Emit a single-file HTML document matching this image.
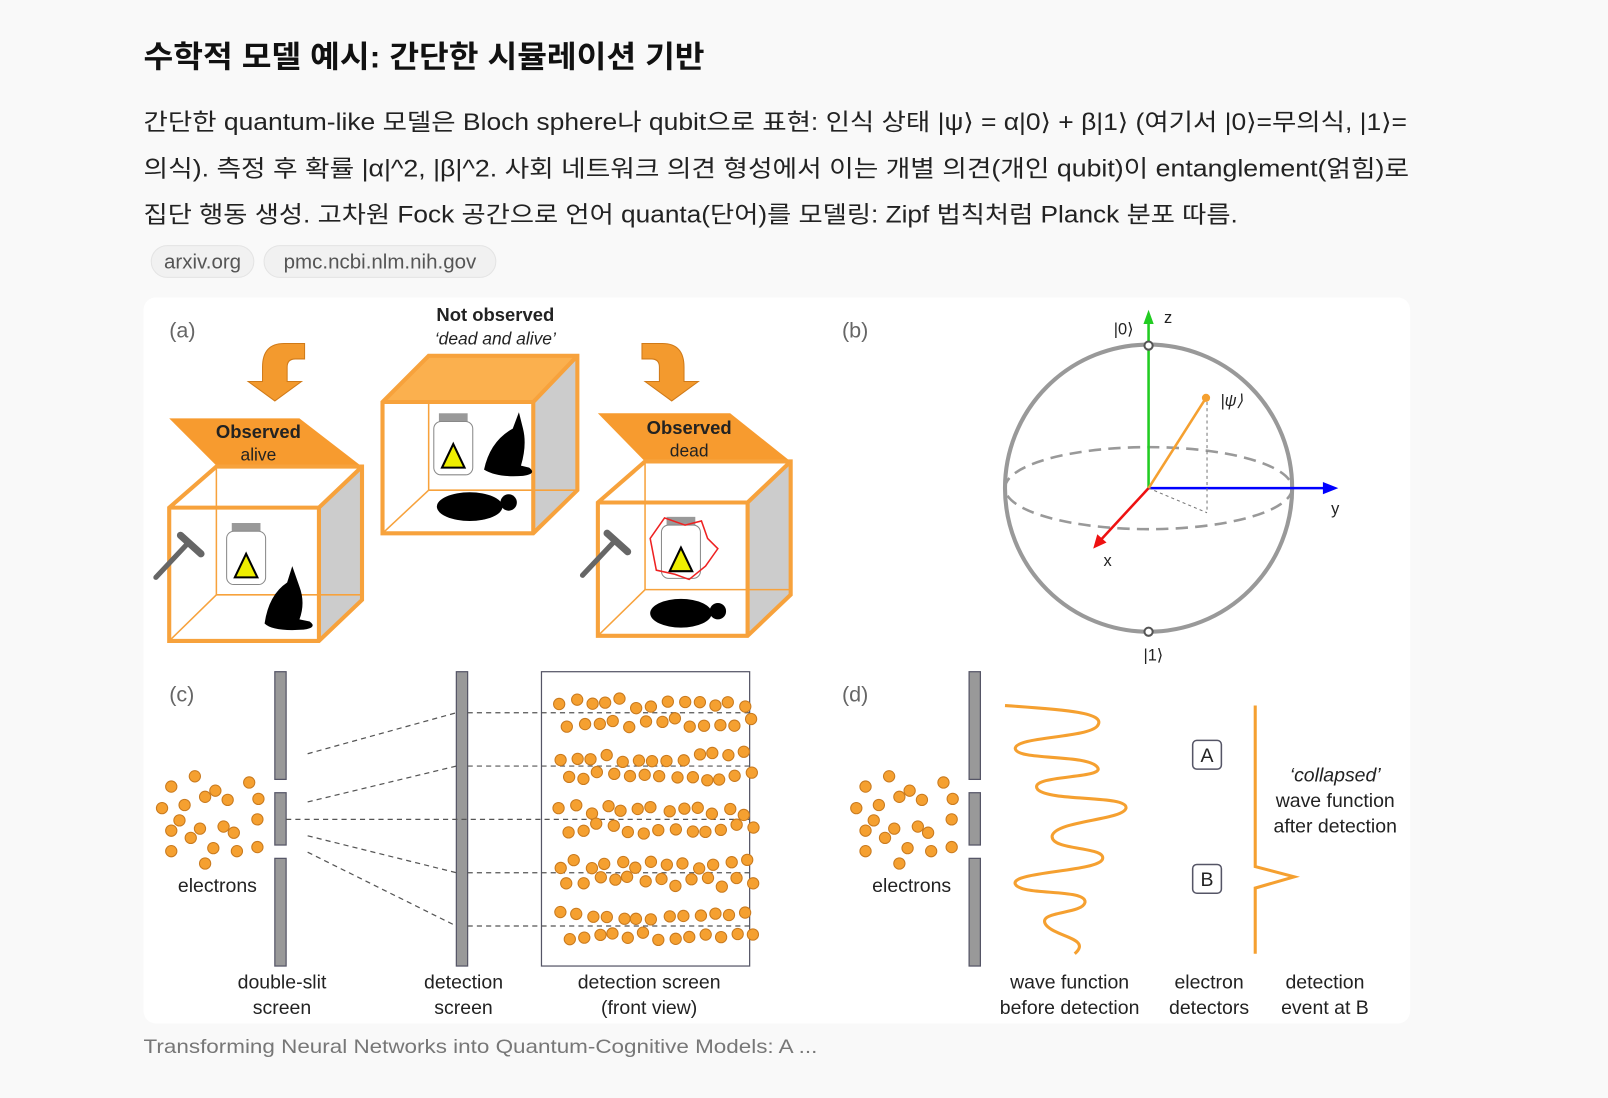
<!DOCTYPE html>
<html><head><meta charset="utf-8"><style>
body{margin:0;width:1608px;height:1098px;background:#f9f9f9;font-family:"Liberation Sans","Noto Sans CJK KR",sans-serif;color:#1a1a1a;overflow:hidden}
#w{position:absolute;left:0;top:0;width:1568px;height:1071px;transform:scale(1.02551);transform-origin:0 0}
.tag{position:absolute;top:239px;height:32px;line-height:32px;border:1px solid #e4e4e4;border-radius:16px;background:#f1f1f1;color:#555;font-size:20px;text-align:center;box-sizing:border-box}
svg{position:absolute;left:0;top:0}
svg text{font-family:"Liberation Sans","Noto Sans CJK KR",sans-serif;fill:#222}
</style></head><body><div id="w">
<div class="tag" style="left:147px;width:101px">arxiv.org</div>
<div class="tag" style="left:257px;width:227px">pmc.ncbi.nlm.nih.gov</div>
<svg width="1568" height="1071" id="s">
<text x="140" y="66" font-size="30" font-weight="bold" textLength="547" lengthAdjust="spacingAndGlyphs" style="fill:#111">수학적 모델 예시: 간단한 시뮬레이션 기반</text>
<g font-size="23" style="fill:#1a1a1a">
<text x="140" y="127" textLength="1232" lengthAdjust="spacingAndGlyphs">간단한 quantum-like 모델은 Bloch sphere나 qubit으로 표현: 인식 상태 |ψ⟩ = α|0⟩ + β|1⟩ (여기서 |0⟩=무의식, |1⟩=</text>
<text x="140" y="172" textLength="1234" lengthAdjust="spacingAndGlyphs">의식). 측정 후 확률 |α|^2, |β|^2. 사회 네트워크 의견 형성에서 이는 개별 의견(개인 qubit)이 entanglement(얽힘)로</text>
<text x="140" y="217" textLength="1067" lengthAdjust="spacingAndGlyphs">집단 행동 생성. 고차원 Fock 공간으로 언어 quanta(단어)를 모델링: Zipf 법칙처럼 Planck 분포 따름.</text>
</g>
<text x="140" y="1027" font-size="19" textLength="657" lengthAdjust="spacingAndGlyphs" style="fill:#777">Transforming Neural Networks into Quantum-Cognitive Models: A ...</text>
<rect x="140" y="290" width="1235" height="708" rx="12" fill="#fff"/>
<g font-size="21"><text x="165" y="329" style="fill:#666">(a)</text><text x="821" y="329" style="fill:#666">(b)</text><text x="165" y="684" style="fill:#666">(c)</text><text x="821" y="684" style="fill:#666">(d)</text></g>
<path d="M297,335 L277,335 Q256,335 256,358 L256,372 L242,372 L268,391 L294,372 L280,372 L280,358 Q280,350 288,350 L297,350 Z" fill="#f39a2e" stroke="#d07a18" stroke-width="1"/>
<path d="M626,335 L646,335 Q667,335 667,358 L667,372 L681,372 L655,391 L629,372 L643,372 L643,358 Q643,350 635,350 L626,350 Z" fill="#f39a2e" stroke="#d07a18" stroke-width="1"/>
<polygon points="311,495 353,455 353,585 311,625" fill="#ccc"/>
<polygon points="165,408 292,408 353,455 212,455" fill="#f79b2f"/>
<g stroke="#f7a23c" fill="none"><line x1="211" y1="455" x2="211" y2="580" stroke-width="1.5"/><line x1="211" y1="580" x2="353" y2="580" stroke-width="1.5"/><line x1="211" y1="580" x2="165" y2="625" stroke-width="1.5"/>
<path d="M165,625 V495 L211,455 H353 V585 L311,625 Z M165,495 H311 V625 M311,495 L353,455" stroke-width="4"/></g>
<text x="252" y="427" font-size="18" font-weight="bold" text-anchor="middle">Observed</text><text x="252" y="449" font-size="17" text-anchor="middle">alive</text>
<polygon points="520,392 563,347 563,478 520,520" fill="#ccc"/>
<polygon points="373,392 418,347 563,347 520,392" fill="#fbb04e"/>
<g stroke="#f7a23c" fill="none"><line x1="418" y1="392" x2="418" y2="478" stroke-width="1.5"/><line x1="418" y1="478" x2="563" y2="478" stroke-width="1.5"/><line x1="418" y1="478" x2="373" y2="520" stroke-width="1.5"/>
<path d="M373,520 V392 L418,347 H563 V478 L520,520 Z M373,392 H520 V520 M520,392 L563,347" stroke-width="4"/></g>
<text x="483" y="313" font-size="18" font-weight="bold" text-anchor="middle">Not observed</text><text x="483" y="336" font-size="17" font-style="italic" text-anchor="middle">‘dead and alive’</text>
<polygon points="729,490 771,450 771,580 729,620" fill="#ccc"/>
<polygon points="583,403 712,403 771,450 629,450" fill="#f79b2f"/>
<g stroke="#f7a23c" fill="none"><line x1="629" y1="450" x2="629" y2="575" stroke-width="1.5"/><line x1="629" y1="575" x2="771" y2="575" stroke-width="1.5"/><line x1="629" y1="575" x2="583" y2="620" stroke-width="1.5"/>
<path d="M583,620 V490 L629,450 H771 V580 L729,620 Z M583,490 H729 V620 M729,490 L771,450" stroke-width="4"/></g>
<text x="672" y="423" font-size="18" font-weight="bold" text-anchor="middle">Observed</text><text x="672" y="445" font-size="17" text-anchor="middle">dead</text>
<g id="bottle"><rect x="226" y="510" width="28" height="8" fill="#999"/><rect x="221" y="518" width="38" height="52" rx="7" fill="#fff" stroke="#888"/><polygon points="240,540 251,563 229,563" fill="#ee0" stroke="#000" stroke-width="2"/></g>
<use href="#bottle" x="202" y="-107"/><use href="#bottle" x="424" y="-6"/>
<polygon points="634,525 648,505 668,512 684,508 690,525 700,535 688,552 672,565 658,560 640,556" fill="none" stroke="#e22" stroke-width="1.5"/>
<g fill="#000">
<path d="M285,552 L280,568 Q262,580 258,608 Q266,616 296,614 Q310,612 302,606 L292,604 Q298,588 292,572 Z"/>
<path d="M506,402 L500,418 Q478,430 472,458 Q485,466 510,464 Q524,462 516,456 L508,454 Q514,434 510,418 Z"/>
<ellipse cx="458" cy="494" rx="32" ry="14"/><circle cx="496" cy="490" r="8"/>
<ellipse cx="664" cy="598" rx="30" ry="14"/><circle cx="700" cy="596" r="8"/>
</g>
<g stroke="#666" stroke-width="5" fill="none" stroke-linecap="round"><line x1="152" y1="563" x2="183" y2="530"/><line x1="568" y1="561" x2="599" y2="528"/></g>
<g stroke="#666" stroke-width="7" stroke-linecap="round"><line x1="176" y1="522" x2="196" y2="540"/><line x1="592" y1="520" x2="612" y2="538"/></g>
<circle cx="1120" cy="476" r="140" fill="none" stroke="#999" stroke-width="4"/>
<ellipse cx="1120" cy="476" rx="140" ry="40" fill="none" stroke="#999" stroke-width="2.5" stroke-dasharray="12,7"/>
<line x1="1120" y1="476" x2="1120" y2="310" stroke="#2c2" stroke-width="2.5"/><polygon points="1120,302 1115,316 1125,316" fill="#2c2"/>
<line x1="1120" y1="476" x2="1295" y2="476" stroke="#00f" stroke-width="2.5"/><polygon points="1305,476 1290,470 1290,482" fill="#00f"/>
<line x1="1120" y1="476" x2="1072" y2="528" stroke="#e11" stroke-width="2.5"/><polygon points="1066,535 1070,521 1079,529" fill="#e11"/>
<line x1="1120" y1="476" x2="1176" y2="388" stroke="#f5a030" stroke-width="2.5"/><circle cx="1176" cy="388" r="4" fill="#f5a030"/>
<line x1="1177" y1="392" x2="1177" y2="500" stroke="#777" stroke-dasharray="3,3"/><line x1="1120" y1="476" x2="1177" y2="500" stroke="#777" stroke-dasharray="3,3"/>
<circle cx="1120" cy="337" r="4" fill="#fff" stroke="#555" stroke-width="2"/><circle cx="1120" cy="616" r="4" fill="#fff" stroke="#555" stroke-width="2"/>
<g font-size="16"><text x="1086" y="326">|0⟩</text><text x="1135" y="315">z</text><text x="1190" y="396" font-style="italic">|ψ⟩</text><text x="1298" y="501">y</text><text x="1076" y="552">x</text><text x="1115" y="644">|1⟩</text></g>
<g fill="#999" stroke="#556" stroke-width="1.2">
<rect x="268" y="655" width="11" height="105"/><rect x="268" y="773" width="11" height="51"/><rect x="268" y="837" width="11" height="105"/>
<rect x="445" y="655" width="11" height="287"/>
<rect x="945" y="655" width="11" height="105"/><rect x="945" y="773" width="11" height="51"/><rect x="945" y="837" width="11" height="105"/></g>
<rect x="528" y="655" width="203" height="287" fill="none" stroke="#556" stroke-width="1.2"/>
<g stroke="#555" stroke-dasharray="5,4" stroke-width="1.2">
<line x1="300" y1="735" x2="445" y2="695"/><line x1="300" y1="782" x2="445" y2="747"/><line x1="279" y1="799" x2="731" y2="799"/><line x1="300" y1="815" x2="445" y2="851"/><line x1="300" y1="831" x2="445" y2="903"/>
<line x1="456" y1="695" x2="731" y2="695"/><line x1="456" y1="747" x2="731" y2="747"/><line x1="456" y1="851" x2="731" y2="851"/><line x1="456" y1="903" x2="731" y2="903"/></g>
<g id="dots" fill="#f5a030" stroke="#c97a1e" stroke-width="1"></g>
<g font-size="19" text-anchor="middle">
<text x="212" y="870">electrons</text><text x="889" y="870">electrons</text>
<text x="275" y="964">double-slit</text><text x="275" y="989">screen</text>
<text x="452" y="964">detection</text><text x="452" y="989">screen</text>
<text x="633" y="964">detection screen</text><text x="633" y="989">(front view)</text>
<text x="1043" y="964">wave function</text><text x="1043" y="989">before detection</text>
<text x="1179" y="964">electron</text><text x="1179" y="989">detectors</text>
<text x="1292" y="964">detection</text><text x="1292" y="989">event at B</text>
<text x="1302" y="762" font-style="italic">‘collapsed’</text><text x="1302" y="787">wave function</text><text x="1302" y="812">after detection</text>
</g>
<path d="M980,688 C1040,692 1080,695 1070,708 C1060,720 990,718 990,730 C992,742 1060,735 1070,748 C1080,760 1000,755 1012,770 C1025,782 1100,775 1098,788 C1095,800 1030,800 1026,815 C1024,830 1080,825 1075,838 C1070,850 985,850 990,862 C995,874 1060,866 1058,880 C1055,892 1010,888 1020,902 C1030,914 1065,915 1048,930" fill="none" stroke="#f5a030" stroke-width="3"/>
<path d="M1224,688 V845 L1262,855 L1224,866 V930" fill="none" stroke="#f5a030" stroke-width="3"/>
<g fill="#fff" stroke="#556" stroke-width="1.5"><rect x="1163" y="722" width="28" height="28" rx="4"/><rect x="1163" y="843" width="28" height="28" rx="4"/></g>
<text x="1177" y="743" font-size="19" text-anchor="middle">A</text><text x="1177" y="864" font-size="19" text-anchor="middle">B</text>
</svg></div>
<script>
var g=document.getElementById('dots'),h='';
function c(x,y){h+='<circle cx="'+x+'" cy="'+y+'" r="5.5"/>';}
var el=[[190,757],[167,767],[210,771],[243,763],[158,788],[180,785],[200,777],[222,780],[252,779],[175,800],[195,808],[218,806],[251,799],[167,810],[186,817],[208,827],[228,812],[251,826],[167,830],[231,830],[200,842]];
el.forEach(function(p){c(p[0],p[1]);c(p[0]+677,p[1]);});
var s=1;function r(){s=(s*9301+49297)%233280;return s/233280;}
[695,747,799,851,903].forEach(function(y){for(var x=544;x<725;x+=15){c(x+r()*5,y-14+r()*10);c(x+7+r()*5,y+4+r()*10);}});
g.innerHTML=h;
</script>
</body></html>
